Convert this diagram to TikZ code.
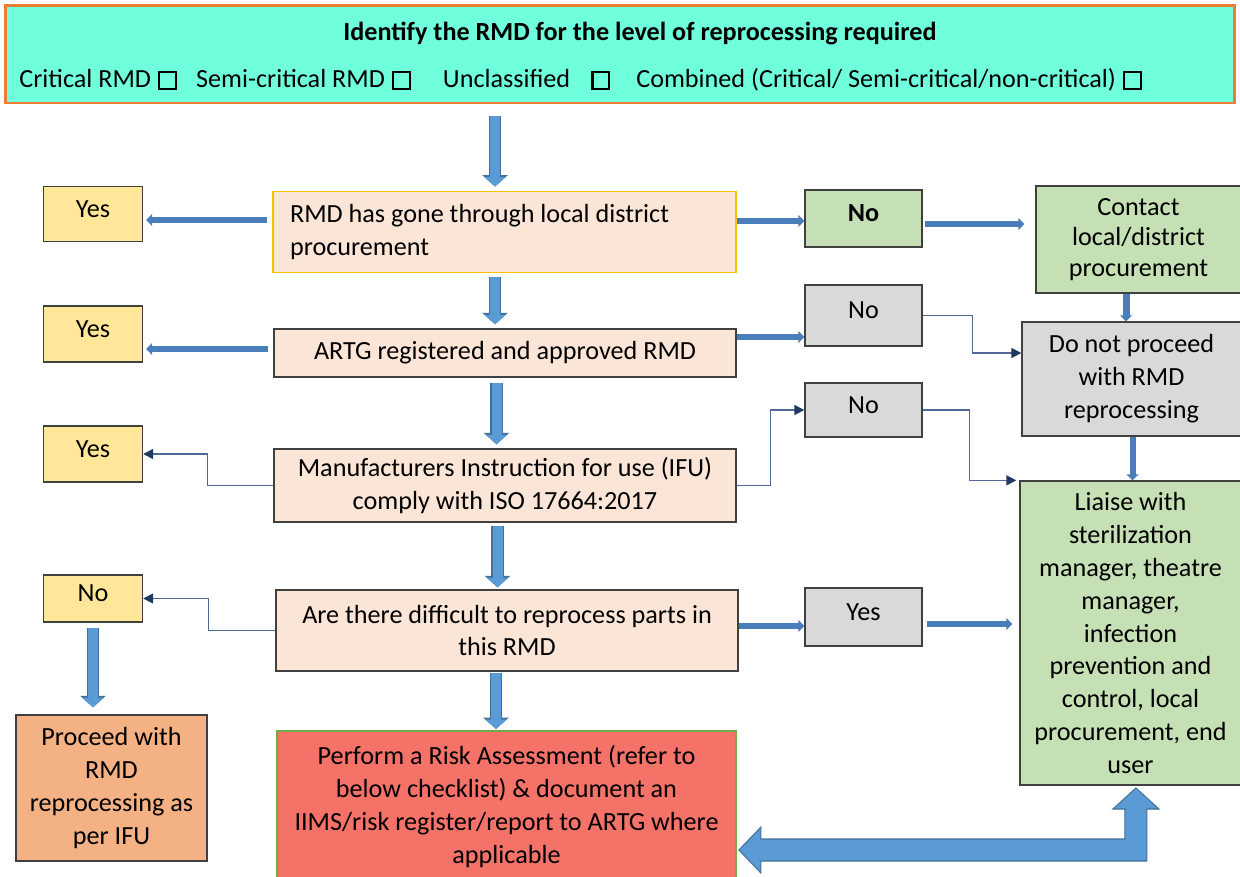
\documentclass[tikz,border=0pt]{standalone}
\usepackage{fontspec}
\setmainfont{Carlito}
\usetikzlibrary{arrows.meta}

\definecolor{aqua}{RGB}{111,255,220}
\definecolor{bannerline}{RGB}{237,125,49}
\definecolor{peach}{RGB}{251,229,214}
\definecolor{gold}{RGB}{255,192,0}
\definecolor{paleyellow}{RGB}{255,230,153}
\definecolor{palegreen}{RGB}{197,224,180}
\definecolor{palegray}{RGB}{217,217,217}
\definecolor{apricot}{RGB}{244,177,131}
\definecolor{riskred}{RGB}{244,114,104}
\definecolor{riskedge}{RGB}{112,173,71}
\definecolor{blockblue}{RGB}{91,155,213}
\definecolor{blockedge}{RGB}{65,113,156}
\definecolor{steel}{RGB}{74,126,187}
\definecolor{thinline}{RGB}{79,106,150}
\definecolor{navyhead}{RGB}{32,56,100}

\newcommand{\tickbox}{{\setlength{\fboxrule}{1.3pt}\setlength{\fboxsep}{0pt}\fbox{\rule{0pt}{0.29cm}\hspace{0.29cm}}}}

\tikzset{
	base/.style={rectangle, draw=black!75, line width=0.8pt, inner sep=0pt},
	box/.style={base, align=center},
	small/.style={base, text depth=0.2cm},
	thickarrow/.style={draw=steel, line width=0.12cm, -{Triangle[width=0.24cm,length=0.12cm]}},
	thinarrow/.style={draw=thinline, line width=0.9pt, -{Triangle[width=0.2cm,length=0.2cm,color=navyhead]}},
	blockarrow/.style={draw=blockblue, line width=0.2cm, -{Triangle[width=0.42cm,length=0.19cm]},
		preaction={draw=blockedge, line width=0.25cm, -{Triangle[width=0.5cm,length=0.23cm]}}}
}

\begin{document}
\begin{tikzpicture}[x=0.02cm, y=-0.02cm, font=\fontsize{14.9}{18.7}\selectfont]
	\useasboundingbox (0,0) rectangle (1240,876);
	% banner
	\node[base, fill=aqua, draw=bannerline, line width=1.7pt, minimum width=24.6cm, minimum height=1.96cm] (banner) at (620,54) {};
	\node[font=\fontsize{14.9}{18.7}\selectfont\bfseries] (title) at (640,34) {Identify the RMD for the level of reprocessing required};
	\node[anchor=west, inner sep=0pt] (levels) at (19,80) {Critical RMD\hspace{0.14cm}\tickbox\hspace{0.38cm}Semi-critical RMD\hspace{0.14cm}\tickbox\hspace{0.64cm}Unclassified\hspace{0.42cm}\tickbox\hspace{0.52cm}Combined (Critical/ Semi-critical/non-critical)\hspace{0.14cm}\tickbox};
	% middle column
	\node[box, fill=peach, draw=gold, line width=1.1pt, minimum width=9.26cm, minimum height=1.62cm, align=flush left, text width=8.58cm] (rmd) at (504.5,232) {RMD has gone through local district\\procurement};
	\node[box, fill=peach, minimum width=9.24cm, minimum height=0.96cm] (artg) at (505,353) {ARTG registered and approved RMD};
	\node[box, fill=peach, minimum width=9.24cm, minimum height=1.46cm] (ifu) at (505,485.5) {Manufacturers Instruction for use (IFU)\\comply with ISO 17664:2017};
	\node[box, fill=peach, minimum width=9.24cm, minimum height=1.62cm] (parts) at (507,630.5) {Are there difficult to reprocess parts in\\this RMD};
	\node[box, fill=riskred, draw=riskedge, line width=1.1pt, minimum width=9.18cm, minimum height=3.02cm] (risk) at (506.5,806.5) {Perform a Risk Assessment (refer to\\below checklist) \& document an\\IIMS/risk register/report to ARTG where\\applicable};
	% left column
	\node[small, fill=paleyellow, minimum width=1.98cm, minimum height=1.1cm] (yesrmd) at (93,214) {Yes};
	\node[small, fill=paleyellow, minimum width=1.98cm, minimum height=1.12cm] (yesartg) at (93,334) {Yes};
	\node[small, fill=paleyellow, minimum width=1.98cm, minimum height=1.12cm] (yesifu) at (93,454) {Yes};
	\node[small, fill=paleyellow, minimum width=1.98cm, minimum height=0.94cm] (noparts) at (93,598.5) {No};
	\node[box, fill=apricot, minimum width=3.82cm, minimum height=2.92cm] (proceed) at (111.5,788) {Proceed with\\RMD\\reprocessing as\\per IFU};
	% right columns
	\node[small, fill=palegreen, minimum width=2.34cm, minimum height=1.14cm, font=\fontsize{14.9}{18.7}\selectfont\bfseries] (normd) at (863.5,218.5) {No};
	\node[small, fill=palegray, minimum width=2.34cm, minimum height=1.22cm] (noartg) at (863.5,315.5) {No};
	\node[small, fill=palegray, minimum width=2.34cm, minimum height=1.08cm] (noifu) at (863.5,410) {No};
	\node[small, fill=palegray, minimum width=2.34cm, minimum height=1.16cm] (yesparts) at (863.5,617) {Yes};
	\node[box, fill=palegreen, minimum width=4.1cm, minimum height=2.14cm, font=\fontsize{14.9}{17.3}\selectfont] (contact) at (1138.5,239.5) {Contact\\local/district\\procurement};
	\node[box, fill=palegray, minimum width=4.38cm, minimum height=2.28cm] (stop) at (1131.5,379) {Do not proceed\\with RMD\\reprocessing};
	\node[box, fill=palegreen, minimum width=4.42cm, minimum height=6.08cm] (liaise) at (1130.5,633) {Liaise with\\sterilization\\manager, theatre\\manager,\\infection\\prevention and\\control, local\\procurement, end\\user};
	% down the middle
	\draw[blockarrow, shorten <=0.24cm, shorten >=0.08cm] ([xshift=-0.19cm]rmd.north |- banner.south) -- ([xshift=-0.19cm]rmd.north);
	\draw[blockarrow, shorten <=0.08cm, shorten >=0.08cm] ([xshift=-0.19cm]rmd.south) -- ([xshift=-0.19cm]rmd.south |- artg.north);
	\draw[blockarrow, shorten <=0.11cm, shorten >=0.08cm] ([xshift=-0.17cm]artg.south) -- ([xshift=-0.17cm]artg.south |- ifu.north);
	\draw[blockarrow, shorten <=0.06cm, shorten >=0.04cm] ([xshift=-0.15cm]ifu.south) -- ([xshift=-0.15cm]ifu.south |- parts.north);
	\draw[blockarrow, shorten <=0.02cm, shorten >=0.02cm] ([xshift=-0.22cm]parts.south) -- ([xshift=-0.22cm]parts.south |- risk.north);
	\draw[blockarrow, shorten <=0.1cm, shorten >=0.14cm] (noparts.south) -- (noparts.south |- proceed.north);
	% yes / no branches
	\draw[thickarrow, shorten <=0.1cm, shorten >=0.06cm] ([yshift=0.24cm]rmd.west) coordinate (r1) -- (r1 -| yesrmd.east);
	\draw[thickarrow, shorten <=0.1cm, shorten >=0.06cm] ([yshift=0.08cm]artg.west) coordinate (r2) -- (r2 -| yesartg.east);
	\draw[thickarrow] ([yshift=0.22cm]rmd.east) coordinate (r3) -- (r3 -| normd.west);
	\draw[thickarrow, shorten <=0.04cm, shorten >=0.22cm] ([yshift=-0.11cm]normd.east) coordinate (r4) -- (r4 -| contact.west);
	\draw[thickarrow] ([yshift=0.32cm]artg.east) coordinate (r5) -- (r5 -| noartg.west);
	\draw[thickarrow] ([yshift=0.09cm]parts.east) coordinate (r6) -- (r6 -| yesparts.west);
	\draw[thickarrow, shorten <=0.08cm, shorten >=0.14cm] ([yshift=-0.14cm]yesparts.east) coordinate (r7) -- (r7 -| liaise.west);
	\draw[thickarrow, line width=0.14cm] ([xshift=-0.25cm]contact.south) -- ([xshift=-0.25cm]contact.south |- stop.north);
	\draw[thickarrow] ([xshift=0.02cm]stop.south) -- ([xshift=0.02cm]stop.south |- liaise.north);
	\draw[thinarrow] (ifu.west) -- ++(-66,0) |- (yesifu.east);
	\draw[thinarrow] (parts.west) -- ++(-67,0) |- (noparts.east);
	\draw[thinarrow] (ifu.east) -- ++(34,0) |- (noifu.west);
	\draw[thinarrow] (noartg.east) -- ++(50,0) |- ([yshift=0.52cm]stop.west);
	\draw[thinarrow, shorten >=0.06cm] (noifu.east) -- ++(47,0) |- (liaise.north west);
	% two-way arrow between risk and liaise
	\draw[fill=blockblue, draw=blockedge, line width=0.6pt] ([xshift=0.04cm,yshift=-0.87cm]risk.east) -- ++(22,-23) -- ++(0,12) -- ++(364,0) -- ++(0,-30) -- ++(-12,0) -- ++(23,-21) -- ++(23,21) -- ++(-12,0) -- ++(0,52) -- ++(-386,0) -- ++(0,12) -- cycle;
\end{tikzpicture}
\end{document}
